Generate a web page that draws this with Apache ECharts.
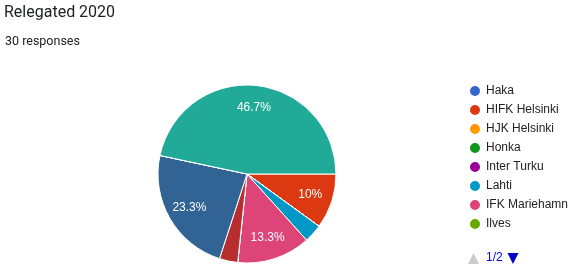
<!DOCTYPE html>
<html>
<head>
<meta charset="utf-8">
<script src="https://cdn.jsdelivr.net/npm/echarts@6/dist/echarts.min.js"></script>
<style>
  html, body { margin: 0; padding: 0; background: #fff; }
  #chart { width: 582px; height: 279px; }
</style>
</head>
<body>
<div id="chart"></div>
<script>
// Data
const titleText = 'Relegated 2020';
const subtitleText = '30 responses';
const teams = ['Haka', 'HIFK Helsinki', 'HJK Helsinki', 'Honka', 'Inter Turku', 'Lahti',
  'IFK Mariehamn', 'Ilves', 'KuPS', 'RoPS', 'SJK', 'TPS'];
const responses = [0, 3, 0, 0, 0, 1, 4, 0, 1, 7, 0, 14];
const legendPage1 = teams.slice(0, 8);
const pageText = '1/2';

const palette = ['#3366cc', '#dc3912', '#ff9900', '#109618', '#990099', '#0099c6',
  '#dd4477', '#66aa00', '#b82e2e', '#316395', '#994499', '#22aa99'];

const total = responses.reduce((a, b) => a + b, 0);
const pieData = teams.map((t, i) => ({ name: t, value: responses[i] }));

function pctLabel(p) {
  const pct = p.value / total * 100;
  if (pct < 5) return '';
  return parseFloat(pct.toFixed(1)) + '%';
}

const chart = echarts.init(document.getElementById('chart'), null, { renderer: 'canvas' });
const center = [247, 174];
const R = 89;

chart.setOption({
  animation: false,
  color: palette,
  title: [
    { text: titleText, left: 4, top: 5, padding: 0,
      textStyle: { fontFamily: 'Roboto', fontSize: 16, fontWeight: 'normal', color: '#202124' } },
    { text: subtitleText, left: 5, top: 35, padding: 0,
      textStyle: { fontFamily: 'Roboto', fontSize: 12.5, fontWeight: 'normal', color: '#202124' } }
  ],
  legend: {
    data: legendPage1,
    orient: 'vertical',
    left: 468,
    top: 84,
    padding: 0,
    itemWidth: 12,
    itemHeight: 12,
    itemGap: 5,
    icon: 'circle',
    selectedMode: false,
    textStyle: { fontFamily: '"Liberation Sans", Arial, sans-serif', fontSize: 12, color: '#222' }
  },
  graphic: [
    { type: 'polygon', shape: { points: [[468, 264], [479, 264], [473.5, 253]] }, style: { fill: '#cccccc' }, silent: true },
    { type: 'text', left: 486, top: 252, silent: true,
      style: { text: pageText, fill: '#0000ee', font: '12px "Liberation Sans", Arial, sans-serif' } },
    { type: 'polygon', shape: { points: [[507.5, 253], [518.5, 253], [513, 264]] }, style: { fill: '#0000cc' }, silent: true }
  ],
  series: [
    {
      type: 'pie',
      center: center,
      radius: R,
      startAngle: 0,
      clockwise: true,
      data: pieData,
      label: { show: false },
      labelLine: { show: false },
      itemStyle: { borderColor: '#ffffff', borderWidth: 1 },
      emphasis: { disabled: true }
    },
    {
      type: 'pie',
      center: center,
      radius: [38, R],
      startAngle: 0,
      clockwise: true,
      silent: true,
      data: pieData,
      itemStyle: { color: 'rgba(0,0,0,0)', borderWidth: 0 },
      label: {
        show: true,
        position: 'inside',
        color: '#ffffff',
        fontFamily: '"Liberation Sans", Arial, sans-serif',
        fontSize: 12,
        formatter: pctLabel
      },
      labelLine: { show: false },
      emphasis: { disabled: true }
    }
  ]
});
</script>
</body>
</html>
